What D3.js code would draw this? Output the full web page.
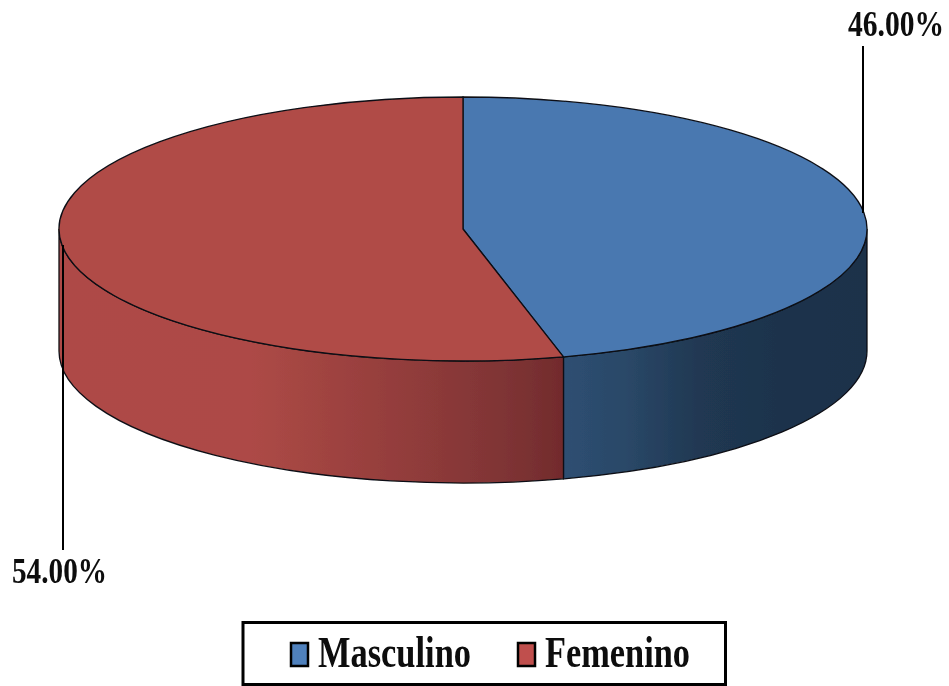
<!DOCTYPE html>
<html><head><meta charset="utf-8">
<script src="https://cdn.jsdelivr.net/npm/d3@7"></script>
<style>html,body{margin:0;padding:0;background:#fff;overflow:hidden}svg{display:block}
text{font-family:"Liberation Serif",serif;font-weight:bold;fill:#0a0a0a}</style></head>
<body><svg id="c" width="949" height="686"></svg>
<script>
const categories = ["Masculino", "Femenino"];
const values = [46, 54];
const valueLabels = ["46.00%", "54.00%"];
const topColors = ["#4a78b0", "#b04b47"];
const legendColors = ["#4f81bd", "#c0504d"];

const W = 949, H = 686;
const cx = 463, cy = 229, rx = 404, ry = 132, depth = 122;
const svg = d3.select("#c");
const defs = svg.append("defs");
const soft = defs.append("filter").attr("id","soft").attr("x","-5%").attr("y","-5%").attr("width","110%").attr("height","110%");
soft.append("feGaussianBlur").attr("stdDeviation",0.55);

const arcs = d3.pie().sort(null).value(d => d)(values);
const pt = (a, dy=0) => [cx + rx*Math.sin(a), cy - ry*Math.cos(a) + dy];

function topPath(s){
  const p = d3.path(); p.moveTo(cx,cy);
  const [x0,y0] = pt(s.startAngle), [x1,y1] = pt(s.endAngle);
  p.lineTo(x0,y0);
  const large = (s.endAngle - s.startAngle) > Math.PI ? 1 : 0;
  return p.toString() + `A${rx},${ry} 0 ${large} 1 ${x1},${y1}Z`;
}
function sidePath(s){
  const a0 = Math.max(s.startAngle, Math.PI/2), a1 = Math.min(s.endAngle, 3*Math.PI/2);
  const [x0,y0] = pt(a0), [x1,y1] = pt(a1);
  const [x2,y2] = pt(a1,depth), [x3,y3] = pt(a0,depth);
  return `M${x0},${y0}A${rx},${ry} 0 0 1 ${x1},${y1}L${x2},${y2}A${rx},${ry} 0 0 0 ${x3},${y3}Z`;
}
const grads = [
  {x1:564,x2:867,stops:[[0,"#2e4f72"],[0.2,"#2a4868"],[0.45,"#203852"],[0.7,"#1e334c"],[1,"#1d304a"]]},
  {x1:59,x2:564,stops:[[0,"#ae4a47"],[0.38,"#ad4a46"],[0.72,"#8f3b3a"],[0.88,"#7f3435"],[1,"#722b2c"]]}
];
grads.forEach((g,i)=>{
  const lg = defs.append("linearGradient").attr("id","g"+i).attr("gradientUnits","userSpaceOnUse")
    .attr("x1",g.x1).attr("x2",g.x2).attr("y1",0).attr("y2",0);
  g.stops.forEach(s=>lg.append("stop").attr("offset",s[0]).attr("stop-color",s[1]));
});
const root = svg.append("g").attr("filter","url(#soft)");
root.selectAll("path.side").data(arcs).join("path").attr("class","side")
  .attr("d",sidePath).attr("fill",(d,i)=>`url(#g${i})`)
  .attr("stroke","#0c0f14").attr("stroke-width",1.3);
root.selectAll("path.top").data(arcs).join("path").attr("class","top")
  .attr("d",topPath).attr("fill",(d,i)=>topColors[i])
  .attr("stroke","#0c0f14").attr("stroke-width",1.3);

// squeeze a text horizontally to the measured width of the reference
function fit(sel){
  sel.each(function(d){
    const k = d.len / this.getComputedTextLength();
    d3.select(this).attr("transform",`translate(${d.tx},${d.ty}) scale(${k},1)`);
  });
}

// leader lines and value labels
const leaders = [
  {x:863,y1:46,y2:213,tx:848,ty:36,len:96},
  {x:63,y1:245,y2:550,tx:12,ty:583,len:95}
];
root.selectAll("line.leader").data(leaders).join("line").attr("class","leader")
  .attr("x1",d=>d.x).attr("x2",d=>d.x).attr("y1",d=>d.y1).attr("y2",d=>d.y2)
  .attr("stroke","#000").attr("stroke-width",2);
root.selectAll("text.val").data(leaders).join("text").attr("class","val")
  .attr("font-size",35)
  .text((d,i)=>valueLabels[i]).call(fit);

// legend
root.append("rect").attr("x",243).attr("y",622.5).attr("width",482.5).attr("height",62)
  .attr("fill","#fff").attr("stroke","#000").attr("stroke-width",3);
const lg = [{sx:291,tx:318,ty:667,len:153},{sx:518,tx:545,ty:667,len:145}];
root.selectAll("rect.sw").data(lg).join("rect").attr("class","sw")
  .attr("x",d=>d.sx).attr("y",643).attr("width",17).attr("height",23)
  .attr("fill",(d,i)=>legendColors[i]).attr("stroke","#000").attr("stroke-width",2.5);
root.selectAll("text.lg").data(lg).join("text").attr("class","lg")
  .attr("font-size",44)
  .text((d,i)=>categories[i]).call(fit);
</script></body></html>
